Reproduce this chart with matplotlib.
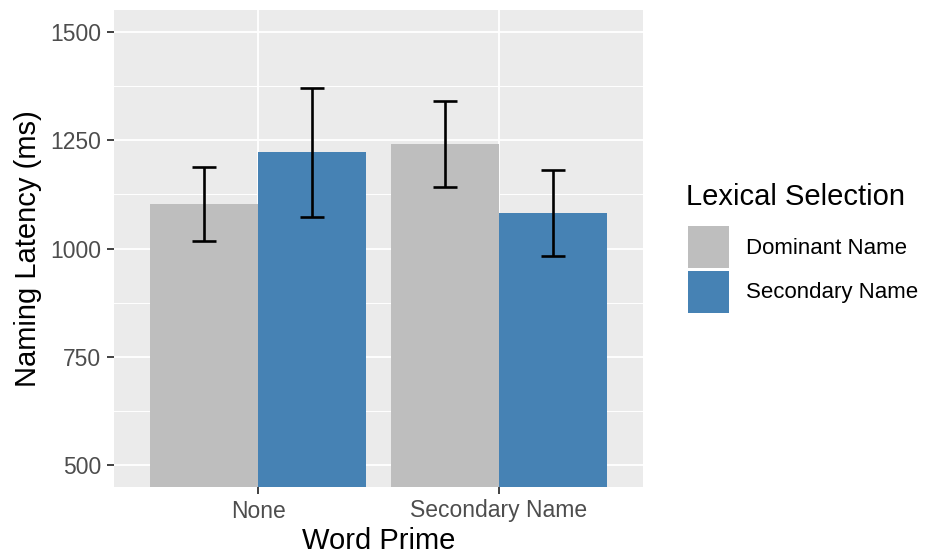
import matplotlib.pyplot as plt
import numpy as np

# data
primes = ['None', 'Secondary Name']
selections = ['Dominant Name', 'Secondary Name']
means = {
    'Dominant Name': [1102, 1241],
    'Secondary Name': [1222, 1082],
}
err_low = {
    'Dominant Name': [1018, 1142],
    'Secondary Name': [1072, 983],
}
err_high = {
    'Dominant Name': [1188, 1341],
    'Secondary Name': [1371, 1181],
}
colors = {'Dominant Name': '#BEBEBE', 'Secondary Name': '#4682B4'}

plt.rcParams['font.family'] = ['Liberation Sans', 'DejaVu Sans']

fig = plt.figure(figsize=(9.32, 5.54), dpi=100)
ax = fig.add_axes([114 / 932, 67 / 554, 529 / 932, 477 / 554])
ax.set_facecolor('#EBEBEB')

x = np.arange(1, len(primes) + 1)
width = 0.45
for i, sel in enumerate(selections):
    pos = x + (i - 0.5) * width
    m = np.array(means[sel])
    ax.bar(pos, m, width=width, color=colors[sel], label=sel, zorder=2)
    lo = m - np.array(err_low[sel])
    hi = np.array(err_high[sel]) - m
    ax.errorbar(pos, m, yerr=[lo, hi], fmt='none', ecolor='black',
                elinewidth=1.9, capsize=8.5, capthick=1.9, zorder=3)

ax.set_xlim(0.4, 2.6)
ax.set_ylim(450, 1550)
ax.set_xticks(x)
ax.set_xticklabels(primes)
ax.set_yticks([500, 750, 1000, 1250, 1500])
ax.set_yticks([625, 875, 1125, 1375], minor=True)
ax.grid(which='major', color='white', linewidth=1.3, zorder=0)
ax.grid(which='minor', axis='y', color='white', linewidth=0.7, zorder=0)
ax.set_axisbelow(True)
for s in ax.spines.values():
    s.set_visible(False)
ax.tick_params(axis='both', which='major', length=5, width=1.3, color='#333333',
               labelsize=16.5, labelcolor='#4D4D4D', pad=4)
ax.tick_params(axis='y', which='minor', length=0)

ax.set_xlabel('Word Prime', fontsize=21, color='black', labelpad=3)
ax.set_ylabel('Naming Latency (ms)', fontsize=21, color='black', labelpad=6)

# legend entries, title placed separately to get the ggplot spacing
leg = ax.legend(loc='center left',
                bbox_to_anchor=(679 / 932, 0.514), bbox_transform=fig.transFigure,
                borderaxespad=0, frameon=False, fontsize=16,
                handlelength=1.85, handleheight=2.55, labelspacing=0.12,
                handletextpad=0.75)
fig.text(686 / 932, 1 - 197 / 554, 'Lexical Selection', fontsize=21,
         ha='left', va='center', color='black')

fig.savefig('out.png', dpi=100)
